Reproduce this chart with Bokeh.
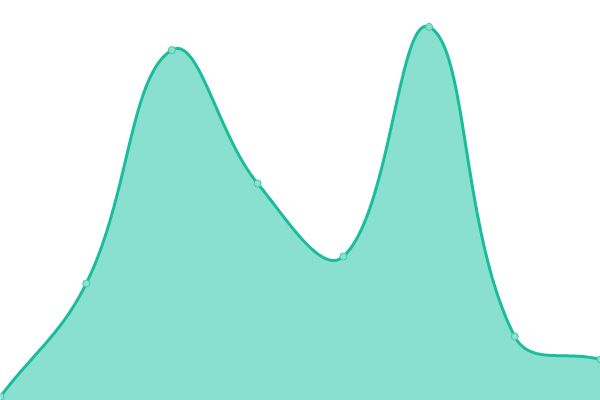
import numpy as np
from bokeh.plotting import figure
from bokeh.models import Range1d
from bokeh.embed import file_html
from bokeh.resources import INLINE

# Data
categories = ["P1", "P2", "P3", "P4", "P5", "P6", "P7", "P8"]
values = [1.0, 29.25, 87.6, 54.25, 36.0, 93.4, 16.0, 10.25]

W, H = 600, 400
X_MIN, X_MAX = 0, len(categories) - 1
Y_MIN, Y_MAX = 0, 100
TENSION = 0.4

xs = np.arange(len(categories), dtype=float)
ys = np.array(values, dtype=float)

# pixel scales (for tension-based spline distances, as in Chart.js)
sx = W / (X_MAX - X_MIN)
sy = H / (Y_MAX - Y_MIN)


def control_points(x, y, t):
    n = len(x)
    cp_prev = np.zeros((n, 2))
    cp_next = np.zeros((n, 2))
    for i in range(n):
        p0 = np.array([x[max(i - 1, 0)], y[max(i - 1, 0)]])
        p1 = np.array([x[i], y[i]])
        p2 = np.array([x[min(i + 1, n - 1)], y[min(i + 1, n - 1)]])
        d01 = np.hypot((p1[0] - p0[0]) * sx, (p1[1] - p0[1]) * sy)
        d12 = np.hypot((p2[0] - p1[0]) * sx, (p2[1] - p1[1]) * sy)
        tot = d01 + d12
        s01 = d01 / tot if tot else 0
        s12 = d12 / tot if tot else 0
        fa = t * s01
        fb = t * s12
        cp_prev[i] = p1 - fa * (p2 - p0)
        cp_next[i] = p1 + fb * (p2 - p0)
    return cp_prev, cp_next


cp_prev, cp_next = control_points(xs, ys, TENSION)

cx, cy = [], []
tt = np.linspace(0, 1, 60)
for i in range(len(xs) - 1):
    P0 = np.array([xs[i], ys[i]])
    P1 = cp_next[i]
    P2 = cp_prev[i + 1]
    P3 = np.array([xs[i + 1], ys[i + 1]])
    seg = ((1 - tt) ** 3)[:, None] * P0 + (3 * (1 - tt) ** 2 * tt)[:, None] * P1 \
        + (3 * (1 - tt) * tt ** 2)[:, None] * P2 + (tt ** 3)[:, None] * P3
    if i > 0:
        seg = seg[1:]
    cx.extend(seg[:, 0])
    cy.extend(seg[:, 1])

p = figure(width=W, height=H, output_backend="svg", toolbar_location=None,
           x_range=Range1d(X_MIN, X_MAX), y_range=Range1d(Y_MIN, Y_MAX),
           min_border=0, outline_line_color=None)
p.styles = {"position": "fixed", "left": "0px", "top": "0px"}
p.axis.visible = False
p.grid.visible = False
p.background_fill_color = "white"
p.border_fill_color = "white"

p.varea(x=cx, y1=[Y_MIN] * len(cx), y2=cy, fill_color="#89e0cf", fill_alpha=1.0)
p.line(x=cx, y=cy, line_color="#1abc9c", line_width=3)
p.scatter(x=xs, y=ys, size=7, marker="circle", fill_color="#8de0d0",
          line_color="#3ccaa8", line_width=1)

open("out.html", "w").write(file_html(p, INLINE))
